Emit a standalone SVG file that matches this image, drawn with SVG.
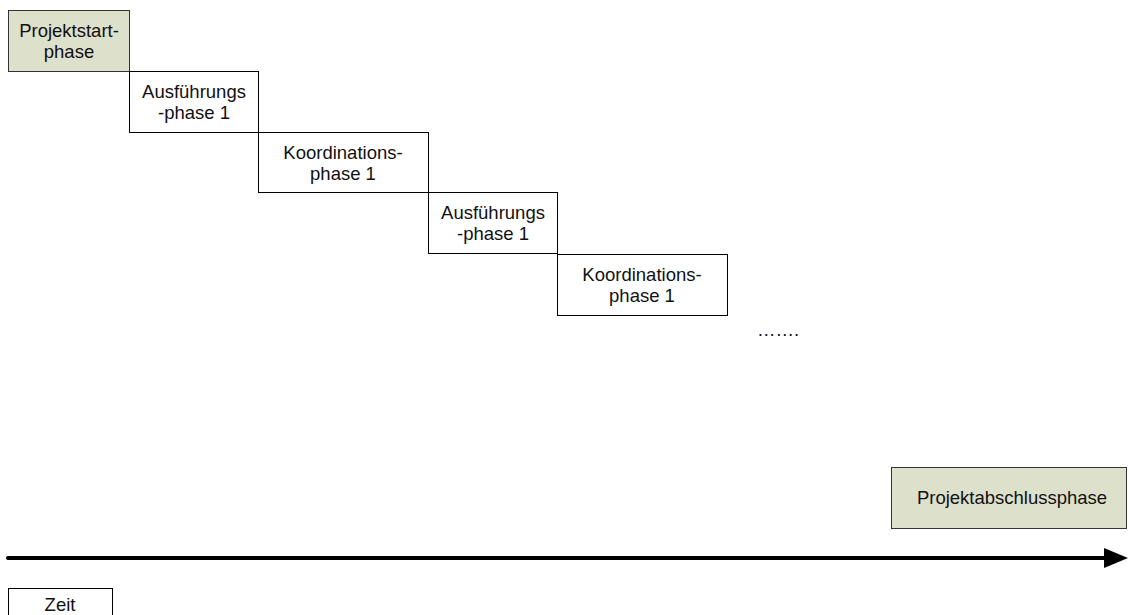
<svg xmlns="http://www.w3.org/2000/svg" width="1129" height="615" viewBox="0 0 1129 615">
<style>
.b{fill:#fff;stroke:#000;stroke-width:1}
.g{fill:#dde0cb;stroke:#333;stroke-width:1}
text{font-family:"Liberation Sans",Arial,sans-serif;font-size:18.5px;fill:#111;text-anchor:middle}
</style>
<defs>
<marker id="ah" markerWidth="6" markerHeight="5" refX="0" refY="2.5" orient="auto" markerUnits="strokeWidth">
<path d="M0,0 L6,2.5 L0,5 Z" fill="#000"/>
</marker>
</defs>
<rect width="1129" height="615" fill="#fff"/>
<g id="connectors">
<line x1="8" y1="558" x2="1104" y2="558" stroke="#000" stroke-width="4" stroke-linecap="round" marker-end="url(#ah)"/>
</g>
<g id="n1"><rect class="g" x="8.5" y="10.5" width="121" height="61"/><text x="69" y="37">Projektstart-</text><text x="69" y="58">phase</text></g>
<g id="n2"><rect class="b" x="129.5" y="71.5" width="129" height="61"/><text x="194" y="98">Ausführungs</text><text x="194" y="119">-phase 1</text></g>
<g id="n3"><rect class="b" x="258.5" y="132.5" width="170" height="60"/><text x="343" y="159">Koordinations-</text><text x="343" y="180">phase 1</text></g>
<g id="n4"><rect class="b" x="428.5" y="192.5" width="129" height="61"/><text x="493" y="219">Ausführungs</text><text x="493" y="240">-phase 1</text></g>
<g id="n5"><rect class="b" x="557.5" y="254.5" width="170" height="61"/><text x="642" y="281">Koordinations-</text><text x="642" y="302">phase 1</text></g>
<g id="dots"><text x="778" y="336">…….</text></g>
<g id="n6"><rect class="g" x="891.5" y="467.5" width="235" height="61"/><text x="1012" y="504">Projektabschlussphase</text></g>
<g id="zeit"><rect class="b" x="8.5" y="588.5" width="104" height="40"/><text x="60" y="611">Zeit</text></g>
</svg>
